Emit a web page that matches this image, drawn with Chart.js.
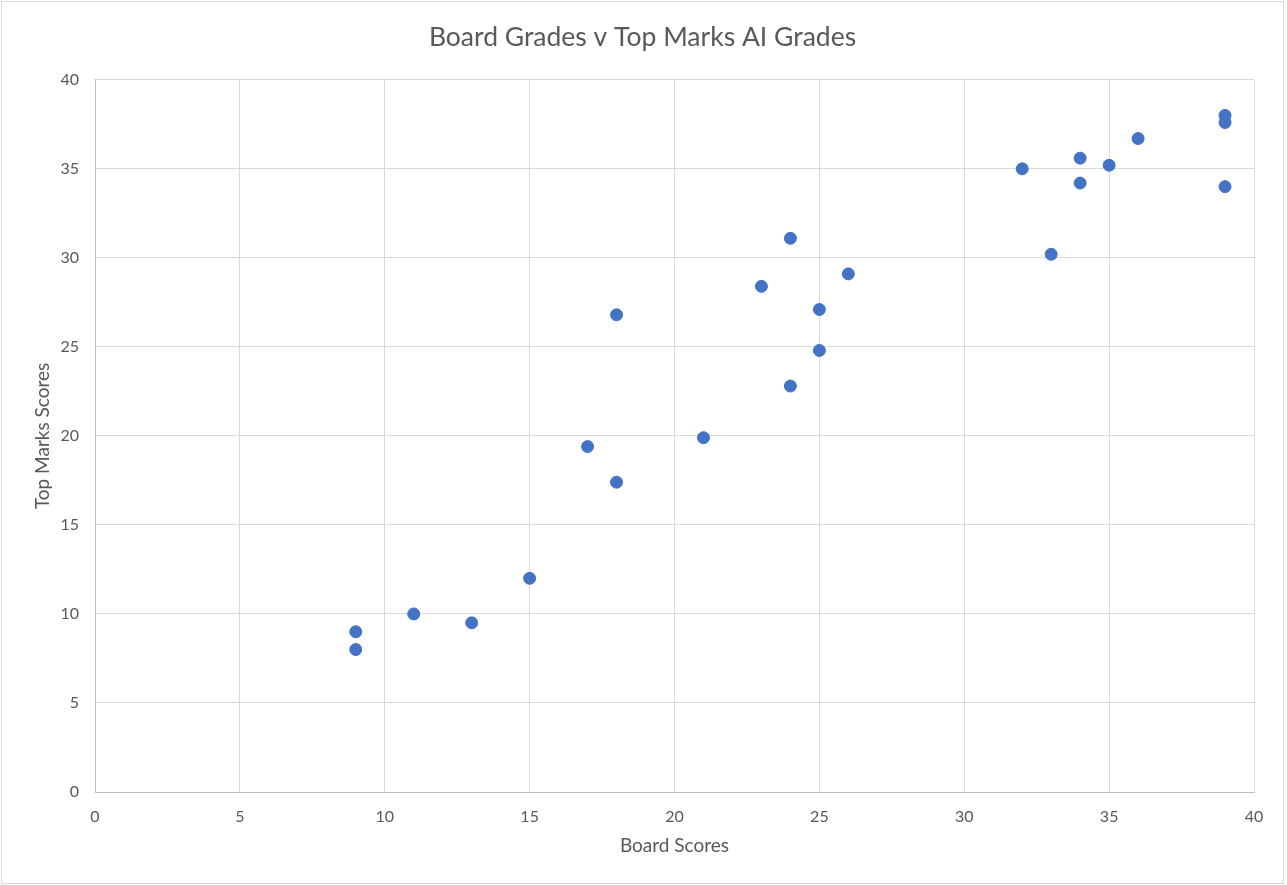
<!DOCTYPE html>
<html>
<head>
<meta charset="utf-8">
<script src="https://cdn.jsdelivr.net/npm/chart.js@4"></script>
<style>
  body { margin: 0; background: #fff; }
  #wrap {
    position: absolute; left: 1px; top: 1px;
    width: 1281px; height: 881px;
    border: 1px solid #d9d9d9;
  }
</style>
</head>
<body>
<div id="wrap"><canvas id="grafica"></canvas></div>
<script>
// Board scores (x) against Top Marks AI scores (y)
const boardScores = [9, 9, 11, 13, 15, 17, 18, 18, 21, 23, 24, 24, 25, 25, 26, 32, 33, 34, 34, 35, 36, 39, 39, 39];
const topMarksScores = [9, 8, 10, 9.5, 12, 19.4, 17.4, 26.8, 19.9, 28.4, 31.1, 22.8, 27.1, 24.8, 29.1, 35, 30.2, 35.6, 34.2, 35.2, 36.7, 38, 37.6, 34];

const titulo = 'Board Grades v Top Marks AI Grades';
const tituloX = 'Board Scores';
const tituloY = 'Top Marks Scores';

const puntos = boardScores.map((x, i) => ({ x: x, y: topMarksScores[i] }));

const gris = '#595959';
const fuente = 'Lato, "Open Sans", sans-serif';

const ctx = document.getElementById('grafica').getContext('2d');
const chart = new Chart(ctx, {
    type: 'scatter',
    data: {
        datasets: [{
            label: 'Top Marks Scores',
            data: puntos,
            backgroundColor: '#4472C4',
            borderColor: '#4472C4',
            pointRadius: 6,
            pointHoverRadius: 6
        }]
    },
    options: {
        responsive: true,
        maintainAspectRatio: false,
        animation: false,
        layout: { padding: 0 },
        plugins: {
            legend: { display: false },
            tooltip: { enabled: false },
            title: {
                display: true,
                text: titulo,
                color: gris,
                font: { family: fuente, size: 26.5, weight: 'normal' },
                padding: { top: 20, bottom: 26 }
            }
        },
        scales: {
            x: {
                type: 'linear',
                min: 0,
                max: 40,
                ticks: { stepSize: 5, color: gris, padding: 15, font: { family: fuente, size: 16 } },
                grid: { color: '#d9d9d9', drawTicks: false },
                border: { color: '#bfbfbf' },
                title: {
                    display: true,
                    text: tituloX,
                    color: gris,
                    font: { family: fuente, size: 19 },
                    padding: { top: 0, bottom: 26 }
                },
                afterFit: (scale) => { scale.height = 91; }
            },
            y: {
                min: 0,
                max: 40,
                ticks: { stepSize: 5, color: gris, padding: 16, font: { family: fuente, size: 16 } },
                grid: { color: '#d9d9d9', drawTicks: false },
                border: { color: '#bfbfbf' },
                title: {
                    display: true,
                    text: tituloY,
                    color: gris,
                    font: { family: fuente, size: 19 },
                    padding: { top: 29, bottom: 0 }
                },
                afterFit: (scale) => { scale.width = 93; }
            },
            // empty right margin so the title stays centred on the whole chart
            margen: {
                position: 'right',
                min: 0,
                max: 40,
                ticks: { display: false },
                grid: { display: false },
                border: { display: false },
                afterFit: (scale) => { scale.width = 29; }
            }
        }
    }
});
</script>
</body>
</html>
